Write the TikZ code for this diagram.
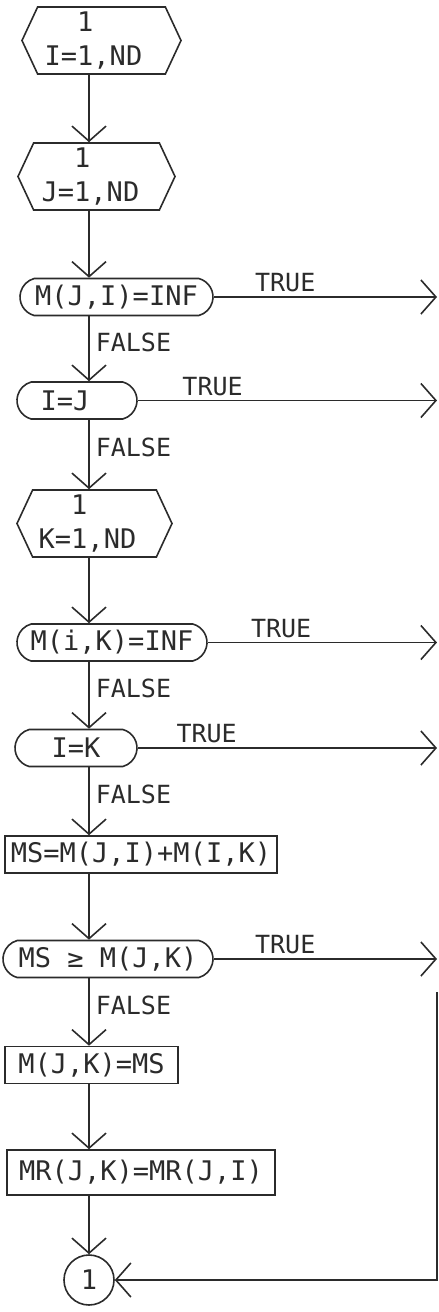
\documentclass[tikz,border=0pt]{standalone}
\usepackage{fontspec}
\setmonofont{DejaVu Sans Mono}
\usepackage{tikz}
\usetikzlibrary{shapes.misc, shapes.symbols, arrows.meta}
\definecolor{ink}{HTML}{2B2B2B}

\begin{document}
\begin{tikzpicture}[x=1pt, y=-1pt, line width=1.6pt, ink,
    every node/.style={font=\ttfamily\fontsize{27}{34}\selectfont, inner sep=0pt},
    loopbox/.style={draw, signal, signal to=west and east, signal pointer angle=130,
      minimum height=67pt, align=left},
    testbox/.style={draw, rounded rectangle, rounded rectangle arc length=150, minimum height=37pt},
    opbox/.style={draw, rectangle, minimum height=37pt},
    flow/.style={-{Straight Barb[length=15pt,width=34pt]}},
    truelab/.style={above, inner sep=4pt, font=\ttfamily\fontsize{25}{30}\selectfont},
    falselab/.style={right, pos=0.4, inner sep=6pt, font=\ttfamily\fontsize{25}{30}\selectfont}]
  \useasboundingbox (0,0) rectangle (439,1312);
  \coordinate (spine) at (89,0);
  \coordinate (rail) at (437,0);

  \node[loopbox, minimum width=159pt] (iloop) at (101.5,40.5) {\phantom{I=}1\\I=1,ND\hspace*{16pt}};
  \node[loopbox, minimum width=157pt] (jloop) at (96.5,176.5) {\phantom{J=}1\\J=1,ND\hspace*{12pt}};
  \node[testbox, minimum width=193pt] (mji) at (116.5,297) {M(J,I)=INF};
  \node[testbox, minimum width=120pt] (ieqj) at (77,400.5) {I=J\hspace*{24pt}};
  \node[loopbox, minimum width=155pt] (kloop) at (94.5,523.5) {\phantom{K=}1\\K=1,ND\hspace*{14pt}};
  \node[testbox, minimum width=190pt] (mik) at (112,642.5) {M(i,K)=INF};
  \node[testbox, minimum width=122pt] (ieqk) at (76,748) {I=K};
  \node[opbox, minimum width=272pt] (msum) at (141,854.5) {MS=M(J,I)+M(I,K)};
  \node[testbox, minimum width=210pt] (msge) at (108,959) {MS ≥ M(J,K)};
  \node[opbox, minimum width=173pt] (mjk) at (91.5,1065) {M(J,K)=MS};
  \node[opbox, minimum width=268pt, minimum height=45pt] (mr) at (141,1172.5) {MR(J,K)=MR(J,I)};
  \node[draw, circle, minimum size=50pt] (conn) at (89,1280) {1};

  % down the main line
  \draw[flow] (iloop.south -| spine) -- (jloop.north -| spine);
  \draw[flow] (jloop.south -| spine) -- (mji.north -| spine);
  \draw[flow] (mji.south -| spine) -- (ieqj.north -| spine) node[falselab] {FALSE};
  \draw[flow] (ieqj.south -| spine) -- (kloop.north -| spine) node[falselab] {FALSE};
  \draw[flow] (kloop.south -| spine) -- (mik.north -| spine);
  \draw[flow] (mik.south -| spine) -- (ieqk.north -| spine) node[falselab] {FALSE};
  \draw[flow] (ieqk.south -| spine) -- (msum.north -| spine) node[falselab] {FALSE};
  \draw[flow] (msum.south -| spine) -- (msge.north -| spine);
  \draw[flow] (msge.south -| spine) -- (mjk.north -| spine) node[falselab] {FALSE};
  \draw[flow] (mjk.south -| spine) -- (mr.north -| spine);
  \draw[flow] (mr.south -| spine) -- (conn.north);

  % TRUE exits to the right
  \draw[flow] (mji.east) -- (mji.east -| rail) node[truelab, pos=0.32] {TRUE};
  \draw[flow] (ieqj.east) -- (ieqj.east -| rail) node[truelab, pos=0.25] {TRUE};
  \draw[flow] (mik.east) -- (mik.east -| rail) node[truelab, pos=0.32] {TRUE};
  \draw[flow] (ieqk.east) -- (ieqk.east -| rail) node[truelab, pos=0.23] {TRUE};
  \draw[flow] (msge.east) -- (msge.east -| rail) node[truelab, pos=0.32] {TRUE};

  \coordinate (back) at (437,992);
  \draw[flow] (back) |- (conn.east);
\end{tikzpicture}
\end{document}
